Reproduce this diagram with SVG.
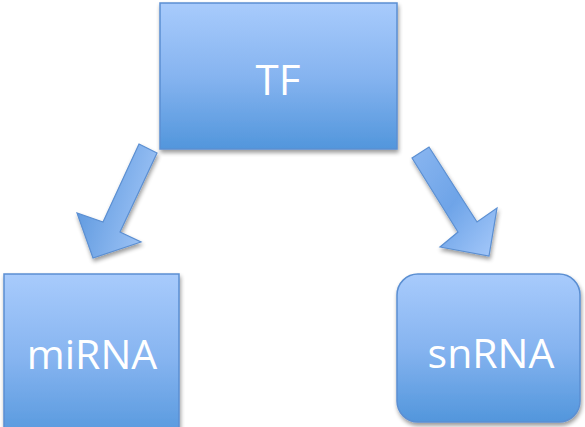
<svg xmlns="http://www.w3.org/2000/svg" width="585" height="427" viewBox="0 0 585 427">
  <defs>
    <linearGradient id="boxFill" x1="0" y1="0" x2="0" y2="1">
      <stop offset="0" stop-color="#a8cbfc"/>
      <stop offset="0.5" stop-color="#86b4f0"/>
      <stop offset="1" stop-color="#5296dc"/>
    </linearGradient>
    <linearGradient id="arrowFillL" x1="0" y1="0.3" x2="1" y2="0.7">
      <stop offset="0" stop-color="#5a96dd"/>
      <stop offset="1" stop-color="#a3c7f8"/>
    </linearGradient>
    <linearGradient id="arrowFillR" x1="0" y1="0" x2="1" y2="1">
      <stop offset="0" stop-color="#8ab6f0"/>
      <stop offset="0.5" stop-color="#6ea4e8"/>
      <stop offset="1" stop-color="#a6c9fa"/>
    </linearGradient>
    <filter id="shadow" x="-10%" y="-10%" width="125%" height="125%">
      <feGaussianBlur in="SourceAlpha" stdDeviation="2"/>
      <feOffset dx="1" dy="3" result="b"/>
      <feComponentTransfer><feFuncA type="linear" slope="0.4"/></feComponentTransfer>
      <feMerge><feMergeNode/><feMergeNode in="SourceGraphic"/></feMerge>
    </filter>
  </defs>
  <style>
    .box { fill: url(#boxFill); stroke: #5b8fd2; stroke-width: 1.5; filter: url(#shadow); }
    .arrow { stroke: #5b8fd2; stroke-width: 1.2; stroke-linejoin: miter; filter: url(#shadow); }
    .label { font-family: "Open Sans", "Noto Sans", sans-serif; font-size: 41px; fill: #ffffff; text-anchor: middle; }
  </style>

  <g id="connectors">
    <polygon class="arrow" fill="url(#arrowFillL)" points="139,144 157,153 120,232 141,242 93,258 77,213 103,222"/>
    <polygon class="arrow" fill="url(#arrowFillR)" points="412,158 429,147 477,222 497,208 489,256 440,247 458,232"/>
  </g>

  <g id="node-tf">
    <rect class="box" x="160" y="3" width="237" height="146"/>
    <text class="label" x="278" y="95" style="font-size:42px">TF</text>
  </g>

  <g id="node-mirna">
    <rect class="box" x="4" y="274" width="175" height="170"/>
    <text class="label" x="92" y="369">miRNA</text>
  </g>

  <g id="node-snrna">
    <rect class="box" x="397" y="274" width="183" height="148" rx="21" ry="21"/>
    <text class="label" x="491" y="368">snRNA</text>
  </g>
</svg>
